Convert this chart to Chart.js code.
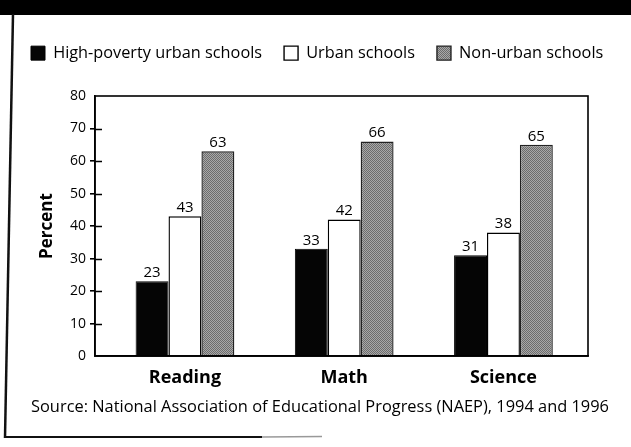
<!DOCTYPE html>
<html>
<head>
<meta charset="utf-8">
<script src="https://cdn.jsdelivr.net/npm/chart.js@4.4.0/dist/chart.umd.min.js"></script>
<style>
html, body { margin: 0; padding: 0; background: #fff; }
#wrap { position: relative; width: 631px; height: 447px; overflow: hidden; }
#chart, #edges { position: absolute; left: 0; top: 0; }
</style>
</head>
<body>
<div id="wrap">
  <canvas id="chart" width="631" height="447"></canvas>
  <svg id="edges" width="631" height="447">
    <rect x="0" y="0" width="631" height="15" fill="#000"/>
    <line x1="13" y1="14" x2="5" y2="438" stroke="#111" stroke-width="2.5"/>
    <line x1="4" y1="437" x2="262" y2="437" stroke="#111" stroke-width="2"/>
    <line x1="262" y1="437" x2="322" y2="436.5" stroke="#999" stroke-width="1.5"/>
  </svg>
</div>
<script>
// subjects along the x axis
const subjects = ["Reading", "Math", "Science"];
// percent values per school type
const highPoverty = [23, 33, 31];
const urban = [43, 42, 38];
const nonUrban = [63, 66, 65];
const seriesNames = ["High-poverty urban schools", "Urban schools", "Non-urban schools"];
const yTicks = [0, 10, 20, 30, 40, 50, 60, 70, 80];
const sourceNote = "Source: National Association of Educational Progress (NAEP), 1994 and 1996";

const FONT = "'Open Sans', sans-serif";
// category range of the x axis (groups sit a bit right of centre in the original)
const X_START = -0.565, X_END = 2.531;
const LEGEND_H = 73; // legend box incl. the gap down to the plot

// dithered grey like the scanned screen tone
function greyPattern(){
    var c = document.createElement("canvas");
    c.width = 4; c.height = 4;
    var g = c.getContext("2d");
    g.fillStyle = "#a8a8a8";
    g.fillRect(0, 0, 4, 4);
    g.fillStyle = "#6c6c6c";
    for (var i = 0; i < 4; i++){
        for (var j = 0; j < 4; j++){
            if ((i + j) % 2 == 0) g.fillRect(i, j, 1, 1);
        }
    }
    return g.createPattern(c, "repeat");
}

// make the legend box taller so the plot starts lower
const legendSpace = {
    id: "legendSpace",
    beforeLayout(chart){
        var lg = chart.legend;
        if (lg && !lg._tall){
            var fit = lg.fit;
            lg.fit = function(){ fit.call(this); this.height = LEGEND_H; };
            lg._tall = true;
        }
    }
};

// box round the plot plus the short inner tick stubs
const frame = {
    id: "frame",
    afterDatasetsDraw(chart){
        var a = chart.chartArea, g = chart.ctx, y = chart.scales.y;
        g.save();
        g.strokeStyle = "#000";
        g.lineWidth = 1.6;
        g.strokeRect(a.left, a.top, a.right - a.left, a.bottom - a.top);
        g.beginPath();
        yTicks.slice(1, -1).forEach(function(v){
            var py = Math.round(y.getPixelForValue(v)) + 0.5;
            g.moveTo(a.left, py);
            g.lineTo(a.left + 7, py);
        });
        g.stroke();
        g.restore();
    }
};

const valueLabels = {
    id: "valueLabels",
    afterDatasetsDraw(chart){
        var g = chart.ctx;
        g.save();
        g.font = "15px " + FONT;
        g.fillStyle = "#000";
        g.textAlign = "center";
        g.textBaseline = "bottom";
        chart.data.datasets.forEach(function(ds, i){
            chart.getDatasetMeta(i).data.forEach(function(bar, j){
                g.fillText(ds.data[j], bar.x, bar.y - 1);
            });
        });
        g.restore();
    }
};

const ctx = document.getElementById("chart").getContext("2d");
const grey = greyPattern();

new Chart(ctx, {
    type: "bar",
    data: {
        labels: subjects,
        datasets: [
            {label: seriesNames[0], data: highPoverty, backgroundColor: "#050505", borderColor: "#000", borderWidth: 1},
            {label: seriesNames[1], data: urban, backgroundColor: "#fff", borderColor: "#000", borderWidth: 1.4},
            {label: seriesNames[2], data: nonUrban, backgroundColor: grey, borderColor: "#222", borderWidth: 1.4}
        ]
    },
    options: {
        responsive: false,
        animation: false,
        datasets: {bar: {categoryPercentage: 0.62, barPercentage: 1}},
        layout: {padding: {top: 23, left: 9, right: 0, bottom: 30}},
        scales: {
            x: {
                afterBuildTicks: function(scale){
                    scale._startValue = X_START;
                    scale._valueRange = X_END - X_START;
                },
                afterFit: function(scale){ scale.height = 41.2; },
                grid: {display: false},
                border: {color: "#000", width: 1.6},
                ticks: {color: "#000", font: {family: FONT, size: 18, weight: "bold"}, padding: 3}
            },
            y: {
                min: 0,
                max: 80,
                afterBuildTicks: function(scale){ scale.ticks = yTicks.map(v => ({value: v})); },
                afterFit: function(scale){ scale.width = 86; },
                grid: {
                    drawOnChartArea: false,
                    tickLength: 5,
                    lineWidth: 1.6,
                    color: c => (c.tick && (c.tick.value == 0 || c.tick.value == 80)) ? "rgba(0,0,0,0)" : "#000"
                },
                border: {color: "#000", width: 1.6},
                ticks: {color: "#000", font: {family: FONT, size: 14}, padding: 4},
                title: {display: true, text: "Percent", color: "#000", font: {family: FONT, size: 17, weight: "bold"}, padding: {top: 28, bottom: 0}}
            },
            y2: {
                position: "right",
                afterFit: function(scale){ scale.width = 43; },
                grid: {display: false},
                border: {display: false},
                ticks: {display: false}
            }
        },
        plugins: {
            legend: {
                position: "top",
                align: "start",
                labels: {
                    color: "#000",
                    font: {family: FONT, size: 16.3},
                    boxWidth: 14,
                    boxHeight: 14,
                    padding: 22
                }
            },
            title: {
                display: true,
                position: "bottom",
                text: sourceNote,
                color: "#000",
                font: {family: FONT, size: 16.4, weight: "normal"},
                padding: {top: 0, bottom: 0}
            },
            tooltip: {enabled: false}
        }
    },
    plugins: [legendSpace, frame, valueLabels]
});
</script>
</body>
</html>
